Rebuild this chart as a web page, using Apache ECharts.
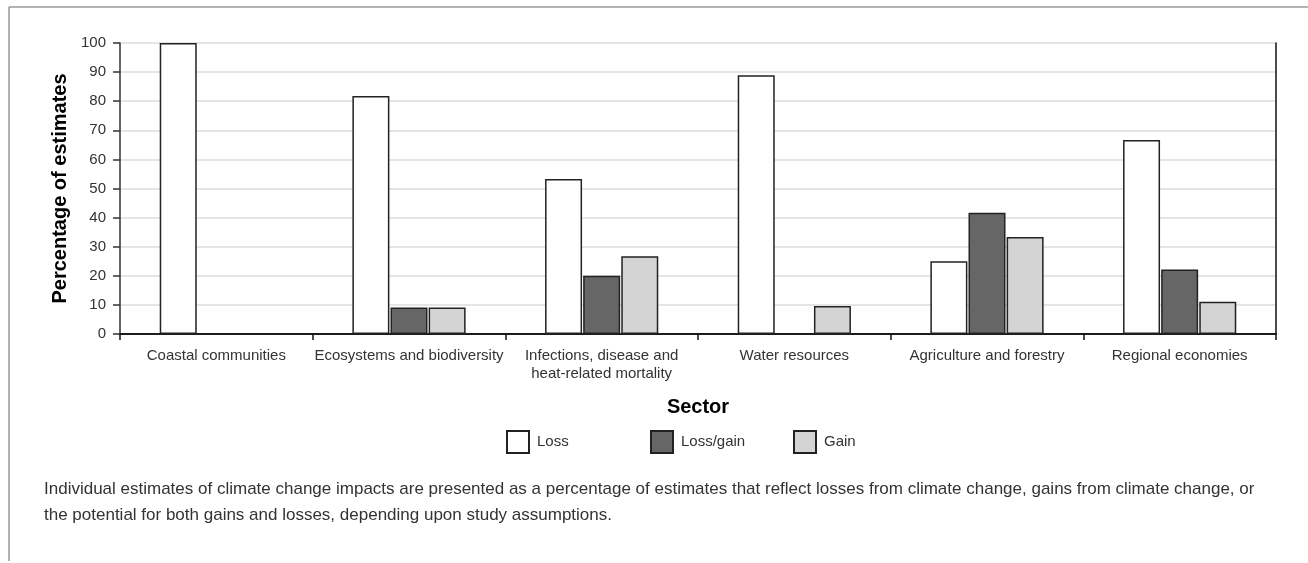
<!DOCTYPE html>
<html>
<head>
<meta charset="utf-8">
<script src="https://cdn.jsdelivr.net/npm/echarts@6/dist/echarts.min.js"></script>
<style>
html,body{margin:0;padding:0;background:#fff;}
#chart{width:1308px;height:563px;}
</style>
</head>
<body>
<div id="chart"></div>
<script>
var categories = ['Coastal communities', 'Ecosystems and biodiversity', 'Infections, disease and\nheat-related mortality', 'Water resources', 'Agriculture and forestry', 'Regional economies'];
var lossValues = [100, 81.8, 53.3, 88.9, 25, 66.7];
var lossGainValues = [null, 9.1, 20, null, 41.7, 22.2];
var gainValues = [null, 9.1, 26.7, 9.6, 33.3, 11.1];
var yTicks = [0, 100, 10];
var captionLines = [
  'Individual estimates of climate change impacts are presented as a percentage of estimates that reflect losses from climate change, gains from climate change, or',
  'the potential for both gains and losses, depending upon study assumptions.'
];

var FONT = 'Liberation Sans';
var chart = echarts.init(document.getElementById('chart'), null, {renderer: 'canvas'});
var border = {borderColor: '#222', borderWidth: 1.5};
function legendAt(name, left) {
  return {
    show: true, data: [name], left: left, top: 430, orient: 'horizontal', padding: 0,
    itemWidth: 22, itemHeight: 22, itemGap: 0,
    textStyle: {fontFamily: FONT, fontSize: 15, color: '#333', padding: [0, 0, 0, 3]},
    icon: 'rect'
  };
}
var option = {
  animation: false,
  backgroundColor: '#fff',
  textStyle: {fontFamily: FONT},
  grid: {left: 120, right: 32, top: 43, bottom: 229, show: false},
  legend: [legendAt('Loss', 506), legendAt('Loss/gain', 650), legendAt('Gain', 793)],
  xAxis: [{
    type: 'category', data: categories,
    name: 'Sector', nameLocation: 'middle', nameGap: 63,
    nameTextStyle: {fontFamily: FONT, fontSize: 20, fontWeight: 'bold', color: '#000'},
    axisLine: {lineStyle: {color: '#111', width: 1.5}},
    axisTick: {show: true, length: 6, lineStyle: {color: '#111', width: 1.5}},
    axisLabel: {fontFamily: FONT, fontSize: 15, color: '#333', margin: 13, lineHeight: 18, interval: 0}
  }, {
    type: 'category', data: categories, position: 'top',
    axisLine: {show: true, lineStyle: {color: '#111', width: 1.5}},
    axisTick: {show: false}, axisLabel: {show: false}, splitLine: {show: false}
  }],
  yAxis: [{
    type: 'value', min: yTicks[0], max: yTicks[1], interval: yTicks[2],
    name: 'Percentage of estimates', nameLocation: 'middle', nameGap: 48,
    nameTextStyle: {fontFamily: FONT, fontSize: 20, fontWeight: 'bold', color: '#000'},
    axisLine: {show: true, lineStyle: {color: '#333', width: 1.5}},
    axisTick: {show: true, length: 7, lineStyle: {color: '#333', width: 1.5}},
    axisLabel: {fontFamily: FONT, fontSize: 15, color: '#333', margin: 14},
    splitLine: {show: true, lineStyle: {color: '#dcdcdc', width: 1.5}}
  }, {
    type: 'value', min: yTicks[0], max: yTicks[1], interval: yTicks[2], position: 'right',
    axisLine: {show: true, lineStyle: {color: '#111', width: 1.5}},
    axisTick: {show: false}, axisLabel: {show: false}, splitLine: {show: false}
  }],
  series: [
    {name: 'Loss', type: 'bar', data: lossValues, barWidth: 37, barGap: '3%', itemStyle: Object.assign({color: '#ffffff'}, border)},
    {name: 'Loss/gain', type: 'bar', data: lossGainValues, barWidth: 37, barGap: '3%', itemStyle: Object.assign({color: '#666666'}, border)},
    {name: 'Gain', type: 'bar', data: gainValues, barWidth: 37, barGap: '3%', itemStyle: Object.assign({color: '#d4d4d4'}, border)}
  ],
  graphic: [
    {type: 'line', shape: {x1: 9, y1: 7, x2: 1308, y2: 7}, style: {stroke: '#999', lineWidth: 1.5}},
    {type: 'line', shape: {x1: 9, y1: 7, x2: 9, y2: 561}, style: {stroke: '#999', lineWidth: 1.5}},
    {type: 'text', left: 44, top: 481, style: {text: captionLines[0], fontFamily: FONT, fontSize: 17, fill: '#333'}},
    {type: 'text', left: 44, top: 507, style: {text: captionLines[1], fontFamily: FONT, fontSize: 17, fill: '#333'}}
  ]
};
chart.setOption(option);
</script>
</body>
</html>
